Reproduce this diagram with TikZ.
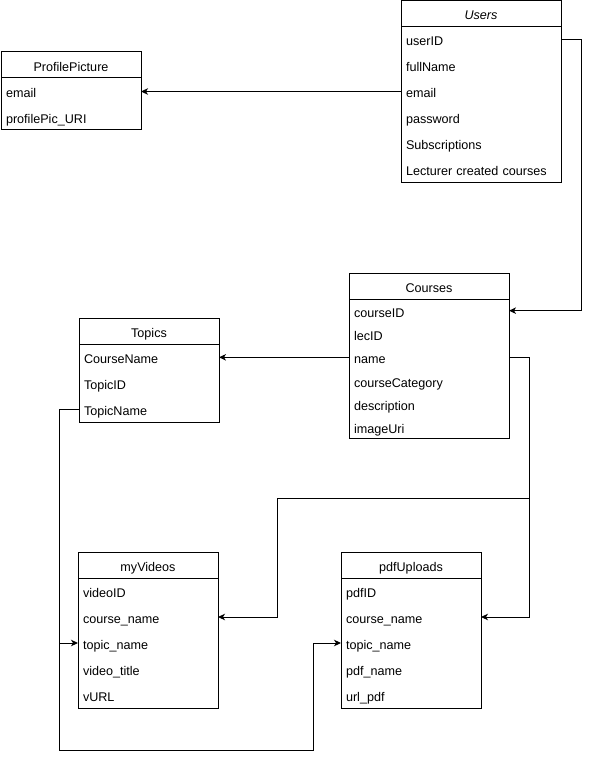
\documentclass[tikz,border=0pt]{standalone}
\usepackage{fontspec}
\setmainfont{Liberation Sans}
\usetikzlibrary{positioning,arrows.meta}
\tikzset{
    tablehead/.style={draw, line width=1pt, anchor=north west, inner sep=0pt, outer sep=0pt, minimum height=26pt, text width=#1, align=center, text height=13pt, text depth=0pt},
    tablerow/.style={anchor=north, inner xsep=5pt, inner ysep=0pt, outer sep=0pt, minimum height=26pt, text width=#1, align=left, text height=13pt, text depth=0pt},
    shortrow/.style={tablerow=150pt, minimum height=23.33pt},
    link/.style={line width=1pt, -{Stealth[length=7pt,width=6.5pt,inset=2pt]}}
}

\begin{document}
\begin{tikzpicture}[x=1pt, y=-1pt, font=\fontsize{12.6}{15}\selectfont, line width=1pt]
\useasboundingbox (0,0) rectangle (589,759);

% Users
\node [tablehead=160pt] (users) at (401,0.5) {\textit{Users}};
\node [tablerow=150pt, below=0pt of users] (u-id) {userID};
\node [tablerow=150pt, below=0pt of u-id] (u-name) {fullName};
\node [tablerow=150pt, below=0pt of u-name] (u-email) {email};
\node [tablerow=150pt, below=0pt of u-email] (u-pass) {password};
\node [tablerow=150pt, below=0pt of u-pass] (u-subs) {Subscriptions};
\node [tablerow=150pt, below=0pt of u-subs] (u-lec) {Lecturer created courses};
\draw (users.south west) rectangle (u-lec.south east);

% ProfilePicture
\node [tablehead=140pt] (pic) at (1,52) {ProfilePicture};
\node [tablerow=130pt, below=0pt of pic] (p-email) {email};
\node [tablerow=130pt, below=0pt of p-email] (p-uri) {profilePic\_URI};
\draw (pic.south west) rectangle (p-uri.south east);

% Courses
\node [tablehead=160pt] (courses) at (349,273) {Courses};
\node [shortrow, below=0pt of courses] (c-id) {courseID};
\node [shortrow, below=0pt of c-id] (c-lec) {lecID};
\node [shortrow, below=0pt of c-lec] (c-name) {name};
\node [shortrow, below=0pt of c-name] (c-cat) {courseCategory};
\node [shortrow, below=0pt of c-cat] (c-desc) {description};
\node [shortrow, below=0pt of c-desc] (c-img) {imageUri};
\draw (courses.south west) rectangle (c-img.south east);

% Topics
\node [tablehead=140pt] (topics) at (79,318) {Topics};
\node [tablerow=130pt, below=0pt of topics] (t-course) {CourseName};
\node [tablerow=130pt, below=0pt of t-course] (t-id) {TopicID};
\node [tablerow=130pt, below=0pt of t-id] (t-name) {TopicName};
\draw (topics.south west) rectangle (t-name.south east);

% myVideos
\node [tablehead=140pt] (videos) at (78,552) {myVideos};
\node [tablerow=130pt, below=0pt of videos] (v-id) {videoID};
\node [tablerow=130pt, below=0pt of v-id] (v-course) {course\_name};
\node [tablerow=130pt, below=0pt of v-course] (v-topic) {topic\_name};
\node [tablerow=130pt, below=0pt of v-topic] (v-title) {video\_title};
\node [tablerow=130pt, below=0pt of v-title] (v-url) {vURL};
\draw (videos.south west) rectangle (v-url.south east);

% pdfUploads
\node [tablehead=140pt] (pdfs) at (341,552) {pdfUploads};
\node [tablerow=130pt, below=0pt of pdfs] (f-id) {pdfID};
\node [tablerow=130pt, below=0pt of f-id] (f-course) {course\_name};
\node [tablerow=130pt, below=0pt of f-course] (f-topic) {topic\_name};
\node [tablerow=130pt, below=0pt of f-topic] (f-name) {pdf\_name};
\node [tablerow=130pt, below=0pt of f-name] (f-url) {url\_pdf};
\draw (pdfs.south west) rectangle (f-url.south east);

% links
\coordinate (bend-v) at (277,498);
\coordinate (bend-f) at (313,750);
\draw [link] (u-id.east) -- ++(20,0) |- (c-id.east);
\draw [link] (u-email.west) -- (u-email.west -| p-email.east);
\draw [link] (c-name.west) -- (c-name.west -| t-course.east);
\draw [link] (c-name.east) -- ++(20,0) |- (bend-v) |- (v-course.east);
\draw [link] (c-name.east) -- ++(20,0) |- (f-course.east);
\draw [link] (t-name.west) -- ++(-20,0) |- (v-topic.west);
\draw [link] (t-name.west) -- ++(-20,0) |- (bend-f) |- (f-topic.west);

\end{tikzpicture}
\end{document}
